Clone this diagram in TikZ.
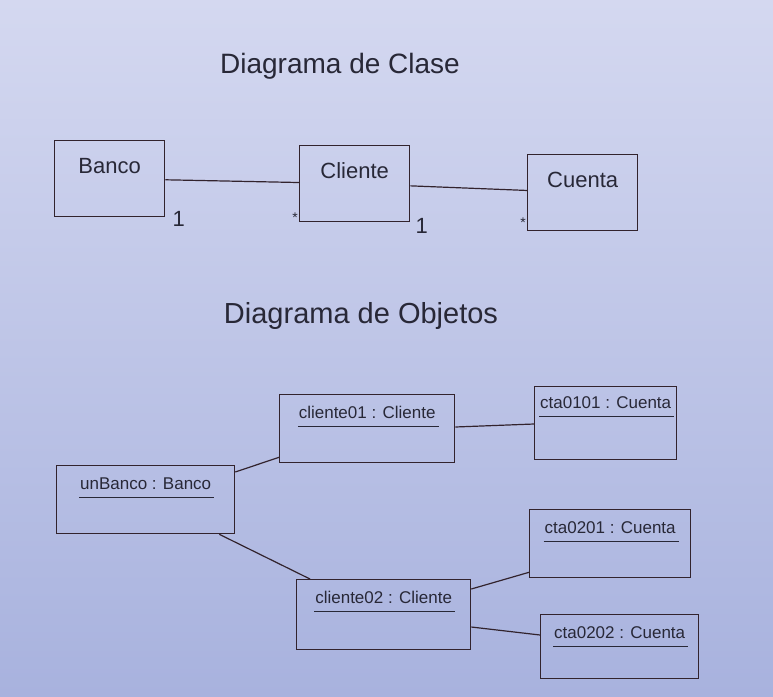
\documentclass[tikz,border=0pt]{standalone}
\usepackage{fontspec}
\setmainfont{Liberation Sans}
\definecolor{fondoarriba}{RGB}{212, 216, 240}
\definecolor{fondoabajo}{RGB}{168, 178, 222}
\definecolor{linea}{RGB}{50, 35, 45}
\definecolor{texto}{RGB}{40, 40, 55}
\newcommand{\instancia}[1]{\setbox0=\hbox{#1}\rlap{\hspace{-1pt}\rule[-8pt]{\dimexpr\wd0+4pt\relax}{1.1pt}}\box0}

\begin{document}
\begin{tikzpicture}[x=1pt, y=-1pt,
		clase/.style={draw=linea, line width=1.3pt, anchor=north west, inner sep=0pt, minimum width=110pt, text height=33pt, text depth=43pt, text=texto, font=\fontsize{22}{26}\selectfont},
		objeto/.style={draw=linea, line width=1.3pt, anchor=north west, inner sep=0pt, text height=24pt, text depth=44pt, text=texto, font=\fontsize{17}{20}\selectfont},
		titulo/.style={anchor=base, text=texto},
		mult/.style={inner sep=0pt, text=texto},
		enlace/.style={draw=linea, line width=1.2pt}]
		
		% Fondo
		\useasboundingbox (0, 0) rectangle (773, 696);
		\fill[top color=fondoarriba, bottom color=fondoabajo] (0, 0) rectangle (773, 696);
		
		% --- Diagrama de Clase ---
		\node[titulo, font=\fontsize{28}{33}\selectfont] (tclase) at (340, 73) {Diagrama de Clase};
		
		\node[clase] (banco) at (54, 140) {Banco};
		\node[clase] (cliente) at (299, 145) {Cliente};
		\node[clase] (cuenta) at (527, 154) {Cuenta};
		
		\draw[enlace] (banco) -- (cliente);
		\draw[enlace] (cliente) -- (cuenta);
		
		% multiplicidades
		\node[mult, anchor=base west, font=\fontsize{22}{26}\selectfont] (m1) at ([xshift=7pt, yshift=-9pt]banco.south east) {1};
		\node[mult, anchor=base east, font=\fontsize{14}{16}\selectfont] (m2) at ([xshift=-1pt]cliente.south west) {*};
		\node[mult, anchor=base west, font=\fontsize{22}{26}\selectfont] (m3) at ([xshift=5pt, yshift=-11pt]cliente.south east) {1};
		\node[mult, anchor=base east, font=\fontsize{14}{16}\selectfont] (m4) at ([xshift=-1pt, yshift=4pt]cuenta.south west) {*};
		
		% --- Diagrama de Objetos ---
		\node[titulo, font=\fontsize{29}{34}\selectfont] (tobjetos) at (361, 323) {Diagrama de Objetos};
		
		\node[objeto, minimum width=175pt] (cliente01) at (279, 394) {\instancia{cliente01 : Cliente}};
		\node[objeto, minimum width=142pt, text height=22pt, text depth=51pt] (cta0101) at (534, 386) {\instancia{cta0101 : Cuenta}};
		\node[objeto, minimum width=178pt] (unbanco) at (56, 465) {\instancia{unBanco : Banco}};
		\node[objeto, minimum width=161pt] (cta0201) at (529, 509) {\instancia{cta0201 : Cuenta}};
		\node[objeto, minimum width=174pt, text depth=46pt] (cliente02) at (296, 579) {\instancia{cliente02 : Cliente}};
		\node[objeto, minimum width=158pt, text depth=40pt] (cta0202) at (540, 614) {\instancia{cta0202 : Cuenta}};
		
		\draw[enlace] ([yshift=-7pt]unbanco.north east) -- ([yshift=6pt]cliente01.south west);
		\draw[enlace] ([xshift=-16pt]unbanco.south east) -- ([xshift=14pt]cliente02.north west);
		\draw[enlace] ([yshift=-33pt]cliente01.north east) -- ([yshift=-38pt]cta0101.north west);
		\draw[enlace] ([yshift=-10pt]cliente02.north east) -- ([yshift=6pt]cta0201.south west);
		\draw[enlace] ([yshift=-48pt]cliente02.north east) -- ([yshift=-21pt]cta0202.north west);
		
	\end{tikzpicture}
\end{document}
